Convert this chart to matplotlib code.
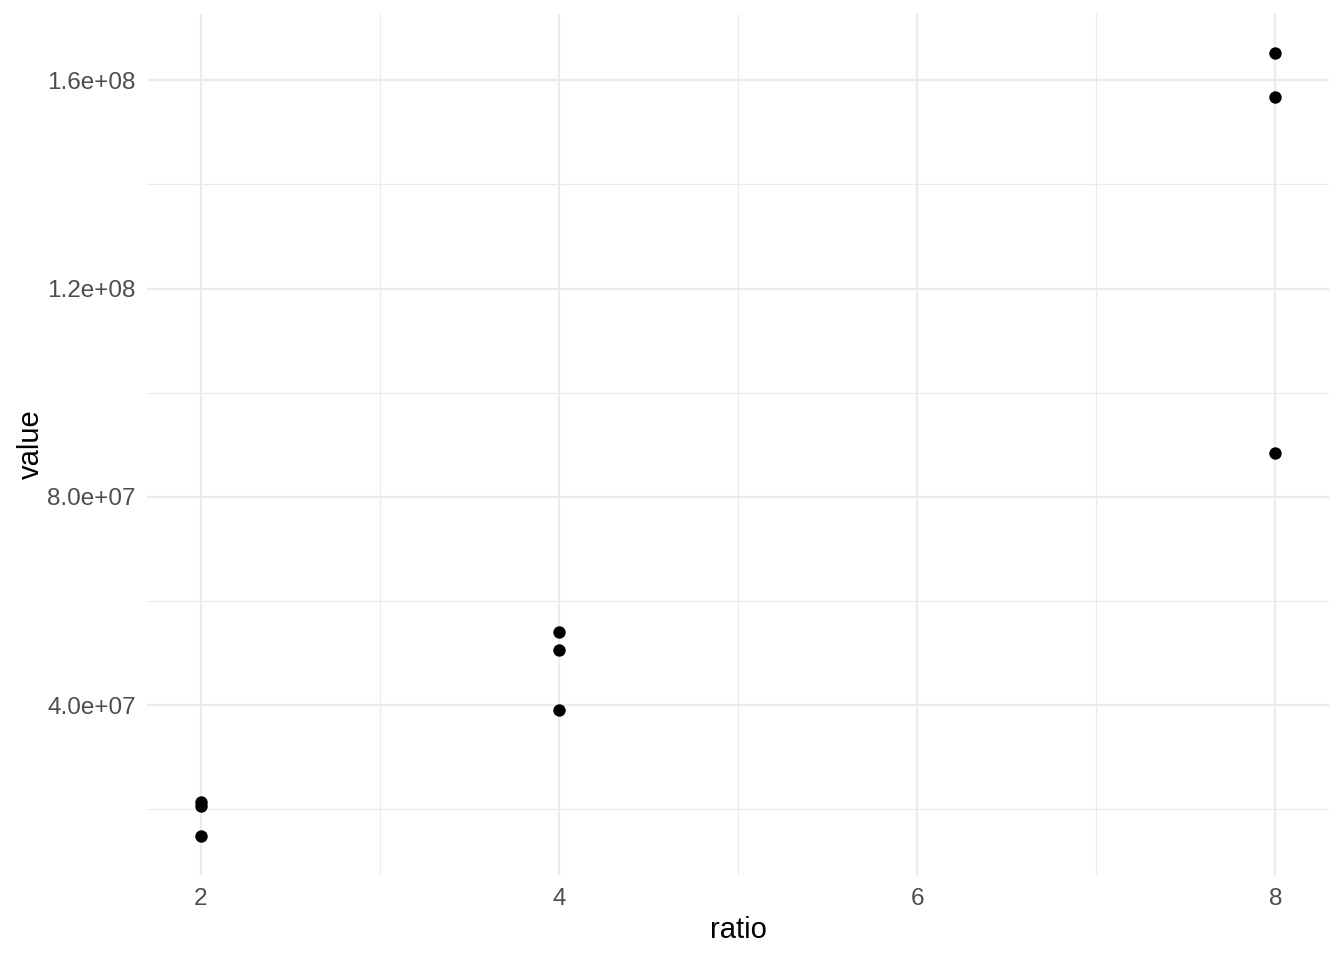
import matplotlib
matplotlib.use("Agg")
from matplotlib import pyplot as plt

# data
ratio = [2, 2, 2, 4, 4, 4, 8, 8, 8]
value = [2.14e7, 2.06e7, 1.49e7, 5.40e7, 5.06e7, 3.90e7, 1.652e8, 1.567e8, 8.84e7]

x_major = [2, 4, 6, 8]
x_minor = [3, 5, 7]
y_major = [4.0e7, 8.0e7, 1.2e8, 1.6e8]
y_minor = [2.0e7, 6.0e7, 1.0e8, 1.4e8]
y_labels = ['4.0e+07', '8.0e+07', '1.2e+08', '1.6e+08']

plt.rcParams['font.family'] = ['Liberation Sans', 'DejaVu Sans']

fig = plt.figure(figsize=(13.44, 9.6), dpi=100)
ax = fig.add_axes([0.1094, 0.0885, 0.8794, 0.8969])

grid_col = '#EBEBEB'
for v in x_minor:
    ax.axvline(v, color=grid_col, lw=0.8, zorder=0)
for v in y_minor:
    ax.axhline(v, color=grid_col, lw=0.8, zorder=0)
for v in x_major:
    ax.axvline(v, color=grid_col, lw=1.6, zorder=0)
for v in y_major:
    ax.axhline(v, color=grid_col, lw=1.6, zorder=0)

ax.scatter(ratio, value, s=80, color='black', zorder=3, linewidths=0)

# ggplot style 5% expansion
xmin, xmax = min(ratio), max(ratio)
ymin, ymax = min(value), max(value)
ax.set_xlim(xmin - 0.05 * (xmax - xmin), xmax + 0.05 * (xmax - xmin))
ax.set_ylim(ymin - 0.05 * (ymax - ymin), ymax + 0.05 * (ymax - ymin))

ax.set_xticks(x_major)
ax.set_yticks(y_major)
ax.set_yticklabels(y_labels)
ax.tick_params(length=0, labelsize=17.5, labelcolor='#4D4D4D')
ax.tick_params(axis='y', pad=8)
ax.tick_params(axis='x', pad=9)
for s in ax.spines.values():
    s.set_visible(False)

ax.set_xlabel('ratio', fontsize=21, labelpad=5)
ax.set_ylabel('value', fontsize=21, labelpad=2)

fig.savefig('out.png', dpi=100, facecolor='white')
